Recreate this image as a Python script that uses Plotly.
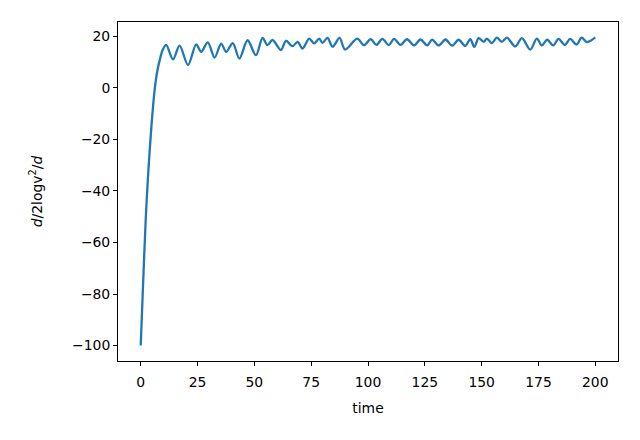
import plotly.graph_objects as go

# time points (extrema + rise)
t = [0, 1, 2.2, 3.2, 4.7, 6.1, 7.3, 8.3, 9.6, 11.2,
     14.2, 17.1, 20.8, 24.4, 26.6, 29.5, 32.5, 35.4, 37.6, 40.5,
     43.4, 47, 50.7, 53.6, 55.8, 58, 61.7, 63.9, 66.8, 69,
     71.2, 74.1, 76.3, 78.5, 80, 82.2, 84.4, 87.5, 89.9, 95.3,
     98.2, 101.2, 103.7, 106.3, 109.2, 111.4, 114.3, 117.2, 120.2, 123.1,
     126, 128.2, 131.1, 134.1, 137, 139.9, 142.8, 145.0, 146.8, 148.7,
     150.9, 152.3, 154.5, 156.7, 158.9, 161.1, 164.8, 167.7, 171.4, 174.3,
     176.5, 178.8, 181.5, 183.8, 186.7, 188.9, 191.8, 194, 196.4, 200]
v = [-100, -77, -51, -34.5, -15, -1, 6.5, 10.5, 14.5, 16.6,
     11, 16.3, 8.8, 16.8, 13.9, 17.6, 11.7, 17.1, 13.9, 17.3,
     11.3, 18.4, 12.6, 19.3, 16.5, 18.5, 14.6, 18.2, 16.1, 17.8,
     15.2, 19.0, 17.2, 19.0, 17.4, 19.3, 15.9, 19.3, 14.8, 19.0,
     16.5, 18.8, 16.6, 18.9, 16.5, 18.9, 16.6, 18.8, 16.4, 18.7,
     16.4, 18.6, 16.4, 18.7, 16.3, 18.6, 16.2, 18.8, 15.8, 19.2,
     17.8, 19.0, 17.3, 19.4, 17.8, 19.4, 16.0, 19.2, 14.8, 19.0,
     16.4, 18.6, 16.4, 18.9, 16.6, 18.9, 16.7, 19.4, 17.7, 19.5]

x_ticks = [0, 25, 50, 75, 100, 125, 150, 175, 200]
y_ticks = [-100, -80, -60, -40, -20, 0, 20]

fig = go.Figure()
fig.add_trace(go.Scatter(x=t, y=v, mode="lines",
                         line=dict(color="#1f77b4", width=2.3, shape="spline", smoothing=0.9),
                         showlegend=False))

axis_common = dict(showline=True, linecolor="black", linewidth=1, mirror=True,
                   ticks="outside", ticklen=4, tickwidth=1, tickcolor="black",
                   showgrid=False, zeroline=False,
                   tickfont=dict(family="DejaVu Sans", size=13.9, color="black"))

fig.update_layout(
    width=632, height=432,
    margin=dict(l=110, r=22, t=14, b=79),
    paper_bgcolor="white", plot_bgcolor="white",
    font=dict(family="DejaVu Sans", size=13.9, color="black"),
    xaxis=dict(range=[-10, 210], tickvals=x_ticks, ticklabelstandoff=4,
               title=dict(text="time", font=dict(size=13.9), standoff=14),
               **axis_common),
    yaxis=dict(range=[-105.98, 25.48], tickvals=y_ticks,
               title=dict(text="<i>d</i>/2logv<sup>2</sup>/<i>d</i>", font=dict(size=13.9), standoff=26),
               **axis_common),
)

fig.write_html("out.html")
